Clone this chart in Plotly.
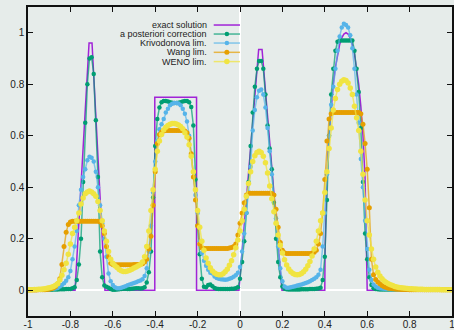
import numpy as np
import plotly.graph_objects as go

# ---------------- data ----------------
x_grid = np.round(np.linspace(-1.0, 1.0, 201), 2)

exact_x = [-1.0, -0.778, -0.712, -0.698, -0.637, -0.402, -0.402, -0.205, -0.205, -0.005,
           0.088, 0.104, 0.198, 0.4, 0.401, 0.41, 0.42, 0.43, 0.44, 0.45, 0.46, 0.47, 0.48,
           0.49, 0.50, 0.51, 0.52, 0.53, 0.54, 0.55, 0.56, 0.57, 0.58, 0.59, 0.599, 0.6, 1.0]
exact_y = [0, 0, 0.96, 0.96, 0, 0, 0.75, 0.75, 0, 0,
           0.935, 0.935, 0, 0, 0.14, 0.436, 0.6, 0.714, 0.8, 0.866, 0.917, 0.954, 0.98,
           0.995, 1.0, 0.995, 0.98, 0.954, 0.917, 0.866, 0.8, 0.714, 0.6, 0.436, 0.14, 0, 0]

post = [
    0.002, 0.002, 0.002, 0.002, 0.002, 0.002, 0.002, 0.002, 0.002, 0.002,
    0.002, 0.002, 0.003, 0.003, 0.003, 0.004, 0.004, 0.004, 0.005, 0.005,
    0.005, 0.008, 0.012, 0.04, 0.1, 0.2, 0.42, 0.65, 0.8, 0.9,
    0.905, 0.84, 0.66, 0.44, 0.15, 0.05, 0.018, 0.014, 0.01, 0.005,
    0.002, 0.002, 0.003, 0.004, 0.005, 0.006, 0.006, 0.005, 0.005, 0.006,
    0.007, 0.008, 0.008, 0.007, 0.008, 0.012, 0.03, 0.07, 0.15, 0.36,
    0.56, 0.665, 0.71, 0.73, 0.735, 0.735, 0.733, 0.73, 0.728, 0.727,
    0.727, 0.728, 0.73, 0.733, 0.735, 0.735, 0.73, 0.712, 0.64, 0.43,
    0.25, 0.14, 0.045, 0.014, 0.012, 0.02, 0.022, 0.016, 0.009, 0.006,
    0.005, 0.005, 0.005, 0.005, 0.005, 0.005, 0.006, 0.006, 0.008, 0.012,
    0.045, 0.11, 0.19, 0.3, 0.42, 0.56, 0.69, 0.79, 0.86, 0.89,
    0.89, 0.86, 0.76, 0.64, 0.55, 0.47, 0.34, 0.2, 0.11, 0.05,
    0.015, 0.006, 0.004, 0.003, 0.003, 0.003, 0.003, 0.003, 0.003, 0.004,
    0.004, 0.004, 0.004, 0.005, 0.005, 0.005, 0.006, 0.007, 0.01, 0.04,
    0.13, 0.35, 0.6, 0.76, 0.86, 0.93, 0.965, 0.97, 0.97, 0.97,
    0.97, 0.97, 0.97, 0.97, 0.93, 0.86, 0.77, 0.63, 0.42, 0.22,
    0.12, 0.05, 0.02, 0.008, 0.005, 0.004, 0.003, 0.003, 0.003, 0.003,
    0.003, 0.003, 0.003, 0.003, 0.003, 0.003, 0.003, 0.003, 0.003, 0.003,
    0.002, 0.002, 0.002, 0.002, 0.002, 0.002, 0.002, 0.002, 0.002, 0.002,
    0.002, 0.002, 0.002, 0.002, 0.002, 0.002, 0.002, 0.002, 0.002, 0.002,
    0.002,
]

kriv = [
    0.002, 0.002, 0.002, 0.002, 0.002, 0.003, 0.003, 0.003, 0.003, 0.004,
    0.004, 0.005, 0.006, 0.007, 0.009, 0.015, 0.02, 0.027, 0.037, 0.05,
    0.075, 0.12, 0.17, 0.23, 0.33, 0.39, 0.44, 0.47, 0.505, 0.518,
    0.515, 0.5, 0.46, 0.4, 0.33, 0.26, 0.2, 0.13, 0.065, 0.035,
    0.02, 0.012, 0.008, 0.008, 0.01, 0.013, 0.016, 0.019, 0.022, 0.025,
    0.028, 0.031, 0.035, 0.038, 0.043, 0.055, 0.085, 0.15, 0.25, 0.38,
    0.5, 0.58, 0.625, 0.645, 0.665, 0.69, 0.705, 0.718, 0.724, 0.727,
    0.727, 0.725, 0.718, 0.705, 0.685, 0.655, 0.6, 0.53, 0.46, 0.37,
    0.3, 0.19, 0.145, 0.115, 0.095, 0.08, 0.068, 0.065, 0.053, 0.048,
    0.045, 0.043, 0.042, 0.041, 0.042, 0.045, 0.048, 0.052, 0.058, 0.068,
    0.09, 0.15, 0.22, 0.3, 0.38, 0.48, 0.62, 0.7, 0.75, 0.775,
    0.78, 0.76, 0.71, 0.63, 0.54, 0.45, 0.37, 0.28, 0.17, 0.085,
    0.035, 0.015, 0.01, 0.01, 0.012, 0.014, 0.016, 0.018, 0.02, 0.022,
    0.025, 0.028, 0.031, 0.035, 0.04, 0.045, 0.05, 0.06, 0.08, 0.17,
    0.3, 0.45, 0.6, 0.72, 0.79, 0.86, 0.93, 0.985, 1.02, 1.035,
    1.03, 1.02, 0.99, 0.94, 0.86, 0.76, 0.65, 0.51, 0.4, 0.27,
    0.16, 0.08, 0.04, 0.022, 0.015, 0.01, 0.008, 0.007, 0.006, 0.005,
    0.005, 0.004, 0.004, 0.004, 0.003, 0.003, 0.003, 0.003, 0.003, 0.003,
    0.002, 0.002, 0.002, 0.002, 0.002, 0.002, 0.002, 0.002, 0.002, 0.002,
    0.002, 0.002, 0.002, 0.002, 0.002, 0.002, 0.002, 0.002, 0.002, 0.002,
    0.002,
]

wang = [
    0.001, 0.001, 0.001, 0.001, 0.001, 0.002, 0.002, 0.002, 0.002, 0.003,
    0.004, 0.006, 0.009, 0.015, 0.025, 0.045, 0.1, 0.17, 0.225, 0.255,
    0.265, 0.268, 0.268, 0.268, 0.268, 0.268, 0.268, 0.268, 0.268, 0.268,
    0.268, 0.268, 0.268, 0.268, 0.265, 0.25, 0.22, 0.17, 0.13, 0.105,
    0.1, 0.099, 0.099, 0.099, 0.099, 0.099, 0.099, 0.099, 0.099, 0.099,
    0.1, 0.1, 0.1, 0.101, 0.103, 0.11, 0.12, 0.16, 0.21, 0.33,
    0.46, 0.57, 0.605, 0.615, 0.618, 0.62, 0.62, 0.62, 0.62, 0.62,
    0.62, 0.62, 0.62, 0.62, 0.618, 0.612, 0.59, 0.53, 0.44, 0.35,
    0.25, 0.18, 0.165, 0.162, 0.162, 0.162, 0.162, 0.162, 0.162, 0.162,
    0.162, 0.162, 0.162, 0.162, 0.162, 0.164, 0.166, 0.17, 0.18, 0.215,
    0.26, 0.3, 0.34, 0.37, 0.377, 0.377, 0.377, 0.377, 0.377, 0.377,
    0.377, 0.377, 0.377, 0.377, 0.377, 0.376, 0.37, 0.315, 0.245, 0.185,
    0.155, 0.146, 0.143, 0.143, 0.143, 0.143, 0.143, 0.143, 0.143, 0.143,
    0.143, 0.143, 0.143, 0.143, 0.145, 0.148, 0.155, 0.18, 0.22, 0.3,
    0.43, 0.58, 0.665, 0.685, 0.69, 0.69, 0.69, 0.69, 0.69, 0.69,
    0.69, 0.69, 0.69, 0.69, 0.69, 0.69, 0.69, 0.685, 0.645, 0.57,
    0.47, 0.32, 0.12, 0.06, 0.042, 0.032, 0.025, 0.018, 0.014, 0.011,
    0.008, 0.007, 0.006, 0.005, 0.004, 0.004, 0.003, 0.003, 0.003, 0.003,
    0.002, 0.002, 0.002, 0.002, 0.002, 0.002, 0.002, 0.002, 0.002, 0.002,
    0.002, 0.002, 0.002, 0.002, 0.002, 0.002, 0.002, 0.002, 0.002, 0.002,
    0.002,
]

weno = [
    0.002, 0.002, 0.002, 0.003, 0.003, 0.004, 0.004, 0.005, 0.006, 0.008,
    0.01, 0.012, 0.015, 0.019, 0.025, 0.04, 0.058, 0.08, 0.105, 0.14,
    0.18, 0.22, 0.245, 0.27, 0.3, 0.335, 0.358, 0.375, 0.382, 0.385,
    0.382, 0.375, 0.365, 0.345, 0.31, 0.27, 0.23, 0.19, 0.15, 0.12,
    0.105, 0.095, 0.088, 0.081, 0.076, 0.073, 0.073, 0.075, 0.078, 0.082,
    0.086, 0.09, 0.095, 0.1, 0.11, 0.13, 0.17, 0.23, 0.31, 0.39,
    0.47, 0.54, 0.58, 0.605, 0.622, 0.633, 0.64, 0.645, 0.648, 0.648,
    0.646, 0.642, 0.636, 0.627, 0.612, 0.595, 0.565, 0.52, 0.46, 0.39,
    0.31, 0.245, 0.19, 0.155, 0.125, 0.105, 0.087, 0.075, 0.067, 0.062,
    0.06, 0.06, 0.064, 0.072, 0.082, 0.097, 0.115, 0.138, 0.165, 0.195,
    0.23, 0.27, 0.315, 0.365, 0.415, 0.46, 0.5, 0.522, 0.535, 0.54,
    0.535, 0.52, 0.495, 0.455, 0.405, 0.355, 0.305, 0.26, 0.215, 0.175,
    0.145, 0.118, 0.098, 0.083, 0.072, 0.065, 0.061, 0.06, 0.061, 0.065,
    0.072, 0.082, 0.095, 0.112, 0.133, 0.16, 0.19, 0.23, 0.27, 0.3,
    0.38, 0.46, 0.55, 0.63, 0.7, 0.745, 0.78, 0.8, 0.812, 0.817,
    0.815, 0.805, 0.785, 0.76, 0.715, 0.67, 0.62, 0.54, 0.45, 0.35,
    0.27, 0.215, 0.16, 0.12, 0.09, 0.07, 0.055, 0.045, 0.036, 0.03,
    0.025, 0.021, 0.018, 0.015, 0.013, 0.011, 0.01, 0.009, 0.008, 0.007,
    0.006, 0.006, 0.005, 0.005, 0.004, 0.004, 0.004, 0.003, 0.003, 0.003,
    0.003, 0.003, 0.003, 0.003, 0.003, 0.002, 0.002, 0.002, 0.002, 0.002,
    0.002,
]

names = ["exact solution", "a posteriori correction", "Krivodonova lim.", "Wang lim.", "WENO lim."]
colors = ["#9400d3", "#009e73", "#56b4e9", "#e69f00", "#f0e442"]
line_rgba = ["rgba(148,0,211,0.85)", "rgba(0,158,115,0.7)", "rgba(86,180,233,0.7)",
             "rgba(230,159,0,0.7)", "rgba(240,228,66,0.75)"]

x_ticks = [-1, -0.8, -0.6, -0.4, -0.2, 0, 0.2, 0.4, 0.6, 0.8, 1]
x_tick_text = ["-1", "-0.8", "-0.6", "-0.4", "-0.2", "0", "0.2", "0.4", "0.6", "0.8", "1"]
y_ticks = [0, 0.2, 0.4, 0.6, 0.8, 1]
y_tick_text = ["0", "0.2", "0.4", "0.6", "0.8", "1"]

# ---------------- figure ----------------
fig = go.Figure()

fig.add_trace(go.Scatter(x=exact_x, y=exact_y, mode="lines",
                         line=dict(color=line_rgba[0], width=1.5), showlegend=False))

series = [post, kriv, wang, weno]
msizes = [4.5, 4.5, 5, 5.5]
for k, s in enumerate(series):
    fig.add_trace(go.Scatter(
        x=x_grid, y=s, mode="lines+markers",
        line=dict(color=line_rgba[k + 1], width=1.5),
        marker=dict(color=colors[k + 1], size=msizes[k], line=dict(width=0)),
        showlegend=False))

# legend (gnuplot style: text on the left, sample on the right)
leg_rows = [1.030, 0.995, 0.960, 0.924, 0.888]
for k, name in enumerate(names):
    yk = leg_rows[k]
    fig.add_trace(go.Scatter(x=[-0.124, 0.0], y=[yk, yk], mode="lines",
                             line=dict(color=line_rgba[k], width=1.5), showlegend=False))
    if k > 0:
        fig.add_trace(go.Scatter(x=[-0.062], y=[yk], mode="markers",
                                 marker=dict(color=colors[k], size=msizes[k - 1]),
                                 showlegend=False))
    fig.add_annotation(x=-0.152, y=yk, text=name, showarrow=False, xanchor="right",
                       yanchor="middle", borderpad=0, font=dict(size=9, color="#222"))

bg = "#e6ecea"
axis_common = dict(showgrid=False, showline=True, linecolor="#111", linewidth=1.5,
                   mirror="ticks", ticks="inside", ticklen=5, tickcolor="#111", tickwidth=1,
                   zeroline=True, zerolinecolor="white", zerolinewidth=1.5,
                   automargin=False, ticklabeloverflow="allow",
                   tickfont=dict(size=10, color="#222"))
fig.update_xaxes(range=[-1, 1], tickvals=x_ticks, ticktext=x_tick_text,
                 ticklabelstandoff=-2, **axis_common)
fig.update_yaxes(range=[-0.1, 1.1], tickvals=y_ticks, ticktext=y_tick_text, **axis_common)

fig.update_layout(width=454, height=330, margin=dict(l=28, r=2, t=7, b=14),
                  plot_bgcolor=bg, paper_bgcolor=bg,
                  font=dict(family="Liberation Sans, Arial, sans-serif"))

fig.write_html("out.html")
